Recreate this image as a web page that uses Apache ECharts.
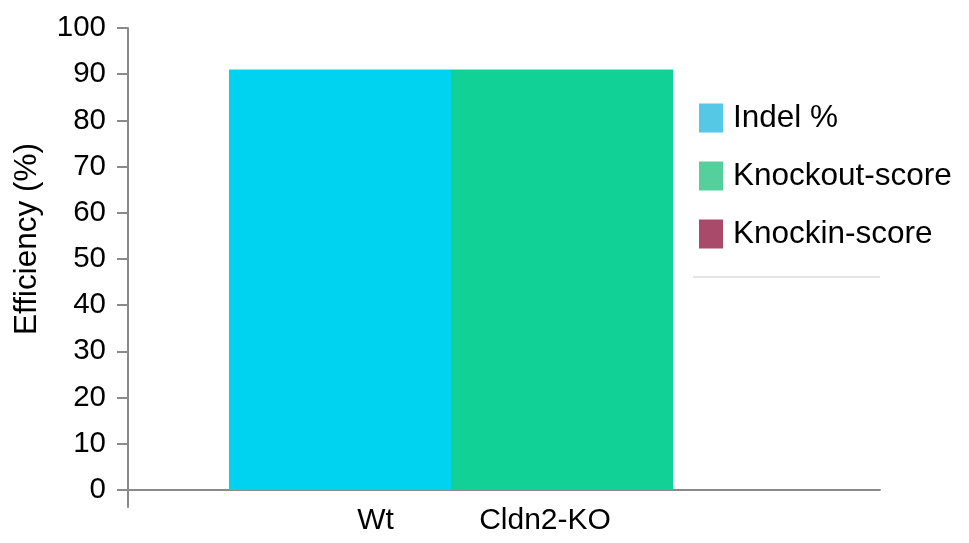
<!DOCTYPE html>
<html>
<head>
<meta charset="utf-8">
<script src="https://cdn.jsdelivr.net/npm/echarts@6/dist/echarts.min.js"></script>
<style>
html,body{margin:0;padding:0;background:#fff;}
#chart{width:969px;height:543px;}
</style>
</head>
<body>
<div id="chart"></div>
<script>
const categories = ['Wt', 'Cldn2-KO'];
const seriesNames = ['Indel %', 'Knockout-score', 'Knockin-score'];
const sampleCategory = ['Cldn2-KO'];
const indelPct = [91];
const knockoutScore = [91];
const knockinScore = [0];
const yTicks = [0, 10, 20, 30, 40, 50, 60, 70, 80, 90, 100];
const yAxisTitle = 'Efficiency (%)';

const FONT = 'Liberation Sans, Arial, Helvetica, sans-serif';
const AXIS_GRAY = '#8a8a8a';
const barColors = ['#00d3ef', '#12d197', '#a94a6b'];
const legendColors = ['#55c8e6', '#55cf9b', '#a94a6b'];
const yMin = -3.7, yMax = 100;

const chart = echarts.init(document.getElementById('chart'), null, {renderer: 'canvas'});
const values = [indelPct, knockoutScore, knockinScore];

const option = {
  animation: false,
  backgroundColor: '#fff',
  textStyle: {fontFamily: FONT},
  grid: [
    {left: 128, right: 89, top: 28, bottom: 36},
    {left: 229, width: 666, top: 28, bottom: 36},
    {left: 290.75, width: 339, top: 28, bottom: 53}
  ],
  xAxis: [
    {
      gridIndex: 0, type: 'category', data: categories,
      axisLine: {show: true, onZero: true, lineStyle: {color: AXIS_GRAY, width: 2}},
      axisTick: {show: false}, axisLabel: {show: false}, splitLine: {show: false}
    },
    {
      gridIndex: 1, type: 'category', data: sampleCategory, show: false
    },
    {
      gridIndex: 2, type: 'category', data: categories,
      axisLine: {show: false}, axisTick: {show: false}, splitLine: {show: false},
      axisLabel: {show: true, color: '#000', fontSize: 30, fontFamily: FONT, margin: 16, interval: 0}
    }
  ],
  yAxis: [
    {
      gridIndex: 0, type: 'value', min: yMin, max: yMax,
      name: yAxisTitle, nameLocation: 'middle', nameGap: 85,
      nameTextStyle: {color: '#000', fontSize: 31.5, fontFamily: FONT, padding: [0, 0, 0, 57]},
      axisLine: {show: true, lineStyle: {color: AXIS_GRAY, width: 2}},
      axisTick: {show: true, length: 11, customValues: yTicks, lineStyle: {color: AXIS_GRAY, width: 2}},
      axisLabel: {show: true, customValues: yTicks, color: '#000', fontSize: 29.5, fontFamily: FONT, margin: 22},
      splitLine: {show: false}
    },
    {gridIndex: 1, type: 'value', min: yMin, max: yMax, show: false},
    {gridIndex: 2, type: 'value', min: 0, max: 100, show: false}
  ],
  legend: {
    orient: 'vertical', left: 699, top: 102, padding: 0,
    itemWidth: 24, itemHeight: 29, itemGap: 26, icon: 'rect',
    textStyle: {color: '#000', fontSize: 31.5, fontFamily: FONT, padding: [4, 0, 0, 5]},
    data: seriesNames.map((n, i) => ({name: n, icon: 'rect', itemStyle: {color: legendColors[i]}}))
  },
  graphic: [{
    type: 'line', shape: {x1: 693, y1: 277, x2: 880, y2: 277},
    style: {stroke: '#dddddd', lineWidth: 1.5}
  }],
  series: seriesNames.map((n, i) => ({
    name: n, type: 'bar', xAxisIndex: 1, yAxisIndex: 1,
    data: values[i], barGap: '0%', barCategoryGap: '0%',
    itemStyle: {color: barColors[i]}
  }))
};
chart.setOption(option);
</script>
</body>
</html>
